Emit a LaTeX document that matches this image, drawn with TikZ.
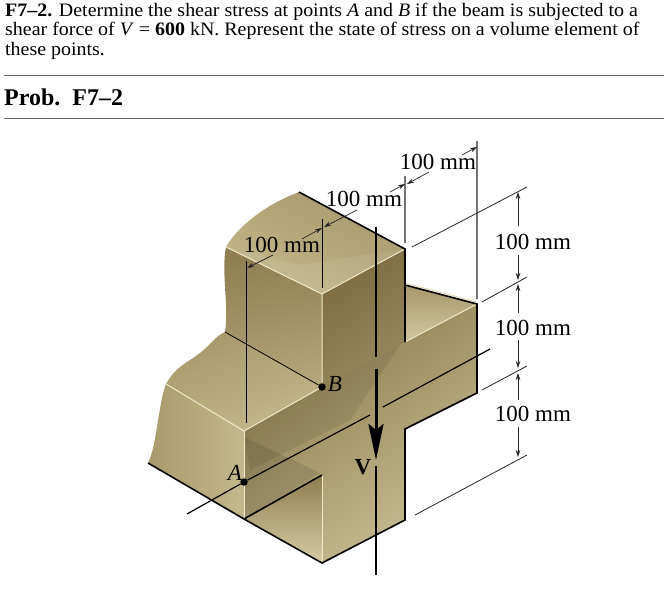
\documentclass[tikz,border=0pt]{standalone}
\usepackage{fontspec}
\setmainfont{Liberation Serif}
\newfontfamily\bodyfont[FakeStretch=1.05]{Liberation Serif}
\usetikzlibrary{arrows.meta}
\definecolor{edgepale}{HTML}{EFE9C8}
\definecolor{topA}{HTML}{A6986B}
\definecolor{topB}{HTML}{C4B98C}
\definecolor{faceA}{HTML}{7F6E3E}
\definecolor{faceM}{HTML}{AA9C6C}
\definecolor{faceB}{HTML}{C6BD92}
\definecolor{leftA}{HTML}{8E7E50}
\definecolor{leftB}{HTML}{B2A578}
\tikzset{
  body/.style={anchor=base west,inner sep=0pt,font=\bodyfont\fontsize{19}{21}\selectfont},
  dimtext/.style={inner sep=0pt,font=\fontsize{23}{25}\selectfont},
  ptlabel/.style={inner sep=0pt,font=\fontsize{23}{25}\selectfont\itshape},
  rulegray/.style={draw=black!60,line width=1pt},
  outline/.style={black,line width=1.6pt},
  pale/.style={edgepale,line width=1pt},
  thinline/.style={black,line width=.8pt},
  extline/.style={black!85,line width=.8pt},
  witness/.style={black!55,line width=1.2pt},
  dimarrow/.style={black!85,line width=.7pt,-{Stealth[length=7pt,width=4.5pt]}},
  ptdot/.style={circle,fill=black,inner sep=0pt,minimum size=7.5pt},
}
\begin{document}
\begin{tikzpicture}[x=1pt,y=-1pt]
\useasboundingbox (0,0) rectangle (668,596);
% key points
\coordinate (tb) at (299,192); \coordinate (tr) at (405,249);
\coordinate (tf) at (322,294); \coordinate (tl) at (226,247);
\coordinate (fa) at (405,285); \coordinate (fb) at (477,304);
\coordinate (fc) at (405,342); \coordinate (fd) at (477,393);
\coordinate (fe) at (405,429); \coordinate (ff) at (405,520);
\coordinate (bt) at (322,563); \coordinate (nt) at (322,475);
\coordinate (lf) at (244,431); \coordinate (lb) at (244,519);
\coordinate (ll) at (166,384); \coordinate (lo) at (148,463);
\coordinate (pb) at (322,387); \coordinate (ub) at (225,332);
% faces
\shade[top color=topA,bottom color=topB,shading angle=-25]
  (tl) .. controls (236,229) and (262,206) .. (tb) -- (tr) -- (tf) -- cycle;
\shade[left color=leftA,right color=leftB,shading angle=10]
  (tl) .. controls (221,272) and (229,305) .. (ub) -- (pb) -- (tf) -- cycle;
\shade[top color=topA,bottom color=topB,shading angle=20]
  (ub) .. controls (212,338) and (212,346) .. (190,360) .. controls (180,366) and (171,374) .. (ll) -- (lf) -- (pb) -- cycle;
\shade[left color=leftB!70!leftA,right color=topB]
  (ll) .. controls (158,405) and (157,445) .. (lo) -- (lb) -- (lf) -- cycle;
\shade[top color=leftA,bottom color=topB!60!edgepale]
  (nt) -- (bt) -- (lb) -- cycle;
\shade[top color=topA,bottom color=topB!70!edgepale] (fa) -- (fb) -- (fc) -- cycle;
\shade[top color=faceA,middle color=faceM,bottom color=faceB,shading angle=35]
  (tf) -- (tr) -- (fc) -- (fb) -- (fd) -- (fe) -- (ff) -- (bt) -- (nt) -- (lb) -- (lf) -- (pb) -- cycle;
% shadows
\fill[black,opacity=.10] (244,437) -- (320,473) -- (lb) -- cycle;
\fill[black,opacity=.08] (lf) -- (pb) -- (400,345) -- (350,420) -- (250,470) -- cycle;
\fill[black,opacity=.05] (tf) -- (tr) -- (fc) -- (pb) -- cycle;
\fill[white,opacity=.07] (tl) -- (tf) -- (tr) -- (300,265) -- cycle;
% pale edges
\draw[pale] (tl) -- (tf) -- (tr);
\draw[pale] (tf) -- (pb) -- (lf) -- (ll);
\draw[pale] (lf) -- (lb);
\draw[pale] (nt) -- (bt);
\draw[pale] (fc) -- (fb);
\draw[edgepale!70!topB,line width=1pt] (405,283) -- (477,302);
% black outline
\draw[outline,line join=miter] (tb) -- (tr) -- (fc);
\draw[outline] (fa) -- (fb) -- (fd) -- (fe) -- (ff) -- (bt) -- (lb) -- (lo);
\draw[outline] (lb) -- (nt);
% witness lines
\coordinate (wa) at (405,176); \coordinate (wb) at (405,243);
\coordinate (wc) at (477,141); \coordinate (wd) at (477,299);
\draw[witness] (wa) -- (wb);
\draw[witness] (wc) -- (wd);
\coordinate (va) at (322.7,219); \coordinate (vb) at (322.7,288);
\coordinate (vc) at (246,261); \coordinate (vd) at (246,423);
\draw[thinline] (va) -- (vb);
\draw[thinline] (vc) -- (vd);
% extension lines
\coordinate (e1a) at (412,247); \coordinate (e1b) at (527,187);
\coordinate (e2a) at (482,302); \coordinate (e2b) at (527,277);
\coordinate (e3a) at (482,390); \coordinate (e3b) at (527,366);
\coordinate (e4a) at (415,515); \coordinate (e4b) at (527,455);
\draw[extline] (e1a) -- (e1b);
\draw[extline] (e2a) -- (e2b);
\draw[extline] (e3a) -- (e3b);
\draw[extline] (e4a) -- (e4b);
% points
\node[ptdot] (B) at (322,387) {};
\node[ptdot] (A) at (244,482) {};
\coordinate (ax0) at (187,514); \coordinate (ax1) at (370,415);
\coordinate (ax2) at (383,407); \coordinate (ax3) at (490,349);
\draw[black,line width=1.2pt] (ax0) -- (A) -- (ax1);
\draw[black,line width=1.2pt] (ax2) -- (ax3);
\draw[thinline] (B) -- (ub);
% V line and arrow
\coordinate (s0) at (376,227); \coordinate (s1) at (376,357);
\coordinate (s2) at (376,369); \coordinate (s3) at (376,460);
\coordinate (s4) at (376,466); \coordinate (s5) at (376,575);
\draw[black,line width=1.2pt] (s0) -- (s1);
\draw[black,line width=1.2pt] (s4) -- (s5);
\draw[black,line width=3pt,-{Stealth[length=36pt,width=15pt,inset=6pt]}] (s2) -- (s3);
% dimension arrows, top
\coordinate (d1a) at (429,172); \coordinate (d1b) at (407,184);
\coordinate (d1c) at (462,155); \coordinate (d1d) at (477,147);
\coordinate (d2a) at (357,210); \coordinate (d2b) at (324,227);
\coordinate (d2c) at (390,192); \coordinate (d2d) at (405,184);
\coordinate (d3a) at (273,255); \coordinate (d3b) at (247,268);
\coordinate (d3c) at (302,239); \coordinate (d3d) at (322,228);
\draw[dimarrow] (d1a) -- (d1b);
\draw[dimarrow] (d1c) -- (d1d);
\draw[dimarrow] (d2a) -- (d2b);
\draw[dimarrow] (d2c) -- (d2d);
\draw[dimarrow] (d3a) -- (d3b);
\draw[dimarrow] (d3c) -- (d3d);
% dimension arrows, right
\coordinate (r1a) at (518,226); \coordinate (r1b) at (518,192);
\coordinate (r2a) at (518,255); \coordinate (r2b) at (518,280);
\coordinate (r3a) at (518,313); \coordinate (r3b) at (518,284);
\coordinate (r4a) at (518,340); \coordinate (r4b) at (518,368);
\coordinate (r5a) at (518,400); \coordinate (r5b) at (518,373);
\coordinate (r6a) at (518,427); \coordinate (r6b) at (518,457);
\draw[dimarrow] (r1a) -- (r1b);
\draw[dimarrow] (r2a) -- (r2b);
\draw[dimarrow] (r3a) -- (r3b);
\draw[dimarrow] (r4a) -- (r4b);
\draw[dimarrow] (r5a) -- (r5b);
\draw[dimarrow] (r6a) -- (r6b);
% labels
\node[dimtext] (l1) at (438,162) {100 mm};
\node[dimtext] (l2) at (364,199) {100 mm};
\node[dimtext] (l3) at (282,245) {100 mm};
\node[dimtext] (l4) at (533,242) {100 mm};
\node[dimtext] (l5) at (533,328) {100 mm};
\node[dimtext] (l6) at (533,414) {100 mm};
\node[ptlabel] (lA) at (235,473) {A};
\node[ptlabel] (lB) at (335,384) {B};
\node[inner sep=0pt,font=\fontsize{23}{25}\selectfont\bfseries] (lV) at (363,467) {V};
% heading
\node[body] (h1) at (5,17) {\textbf{F7–2.} Determine the shear stress at points \textit{A} and \textit{B} if the beam is subjected to a};
\node[body] (h2) at (5,36) {shear force of \textit{V} = \textbf{600} kN. Represent the state of stress on a volume element of};
\node[body] (h3) at (5,56) {these points.};
\coordinate (ru1a) at (4,75.5); \coordinate (ru1b) at (664,75.5);
\coordinate (ru2a) at (4,118.5); \coordinate (ru2b) at (664,118.5);
\draw[rulegray] (ru1a) -- (ru1b);
\draw[rulegray] (ru2a) -- (ru2b);
\node[anchor=base west,inner sep=0pt,font=\fontsize{24}{26}\selectfont\bfseries] (prob) at (4,106) {Prob.\enspace F7–2};
\end{tikzpicture}
\end{document}
